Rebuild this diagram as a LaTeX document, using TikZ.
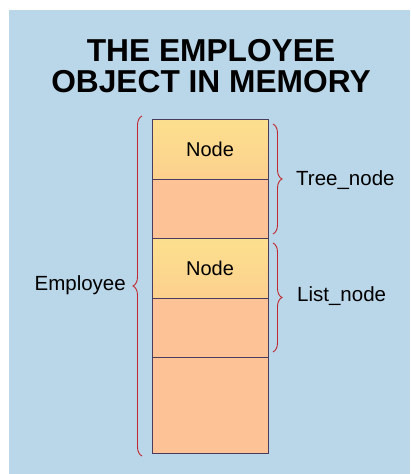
\documentclass[tikz,border=0pt]{standalone}
\usepackage{fontspec}
\setmainfont{Liberation Sans}
\usetikzlibrary{decorations.pathreplacing}
\definecolor{bgblue}{HTML}{BAD6E9}
\definecolor{nodeyel}{HTML}{FCE08E}
\definecolor{nodebot}{HTML}{FCD08E}
\definecolor{peach}{HTML}{FDC295}
\definecolor{edge}{HTML}{4A3C5E}
\definecolor{bracered}{HTML}{C0282D}
\tikzset{
  rowbox/.style={draw=edge, line width=0.8pt, minimum width=116pt, inner sep=0pt, outer sep=0pt},
  nodebox/.style={rowbox, top color=nodeyel, bottom color=nodebot, minimum height=60pt, font=\fontsize{20}{24}\selectfont},
  plainbox/.style={rowbox, fill=peach},
  bracestyle/.style={draw=bracered, line width=0.9pt, decorate, decoration={brace, amplitude=9pt}},
  lbl/.style={font=\fontsize{20.5}{24}\selectfont, inner sep=0pt},
  ttl/.style={font=\fontsize{31.7}{32}\selectfont\bfseries, align=center, inner sep=0pt}
}
\begin{document}
\begin{tikzpicture}[x=1pt, y=-1pt]
\useasboundingbox (0,0) rectangle (410,474);
\fill[white] (0,0) rectangle (410,474);
\fill[bgblue] (9,10) rectangle (410,474);
\node[ttl] (title) at (211,66) {THE EMPLOYEE\\[-1pt]OBJECT IN MEMORY};
\node[nodebox] (r1) at (210,149) {Node};
\node[plainbox, minimum height=59pt] (r2) at (210,208.5) {};
\node[nodebox] (r3) at (210,268) {Node};
\node[plainbox, minimum height=59pt] (r4) at (210,327.5) {};
\node[plainbox, minimum height=96pt] (r5) at (210,405) {};
\draw[edge, line width=1pt] (r1.north west) rectangle (r5.south east);
\coordinate (tA) at ([xshift=5pt,yshift=-5pt]r1.north east);
\coordinate (tB) at ([xshift=5pt,yshift=4pt]r2.south east);
\coordinate (lA) at ([xshift=5pt,yshift=-5pt]r3.north east);
\coordinate (lB) at ([xshift=5pt,yshift=5pt]r4.south east);
\coordinate (eA) at ([xshift=-10pt,yshift=-3pt]r5.south west);
\coordinate (eB) at ([xshift=-10pt,yshift=3pt]r1.north west);
\draw[bracestyle] (tA) -- (tB);
\draw[bracestyle] (lA) -- (lB);
\draw[bracestyle] (eA) -- (eB);
\node[lbl, anchor=west] (tree) at (296,180) {Tree\_node};
\node[lbl, anchor=west] (list) at (297,296) {List\_node};
\node[lbl, anchor=east] (emp) at (126,285) {Employee};
\end{tikzpicture}
\end{document}
